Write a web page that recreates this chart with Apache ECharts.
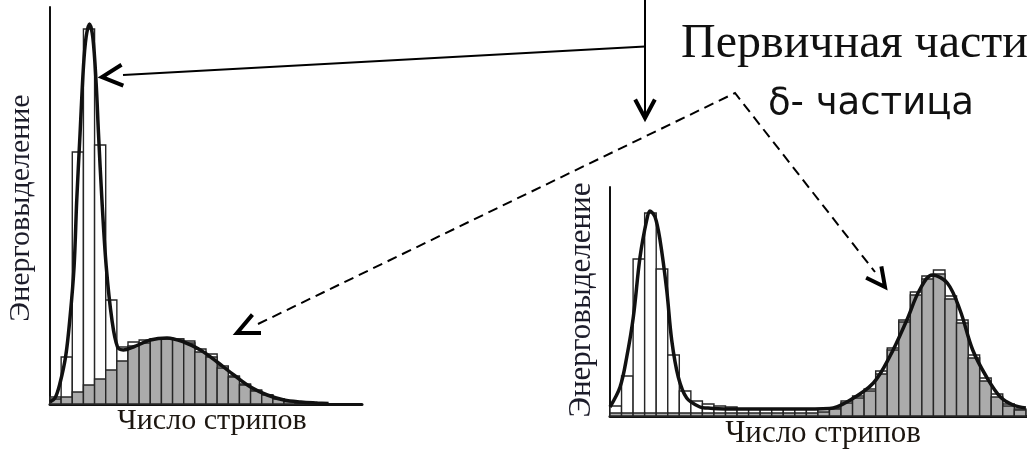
<!DOCTYPE html>
<html><head><meta charset="utf-8">
<script src="https://cdn.jsdelivr.net/npm/echarts@6/dist/echarts.min.js"></script>
<style>html,body{margin:0;padding:0;background:#fff}#c{width:1027px;height:453px}</style>
</head><body><div id="c"></div>
<script>
// ---- Left panel: delta-particle overlapping the primary cluster ----
const leftTotal = [7, 47, 252, 375, 259, 104, 57, 62, 64, 65, 66, 65, 63, 55, 50, 38, 28, 20, 14, 9, 5, 3, 2, 1];
const leftDelta = [5, 7, 12, 19, 25, 34, 43, 58, 61, 65, 65, 65, 61, 52, 47, 36, 27, 19, 13, 9, 5, 2.5, 1.5, 1];
const leftFit = [[0,2],[0.45,6],[0.9,21],[1.41,48],[1.8,87],[2.16,137],[2.4,204],[2.7,271],[3.0,337],[3.24,367],[3.54,380],[3.84,367],[4.14,321],[4.35,271],[4.66,204],[5.05,137],[5.56,84],[6.06,57],[6.58,54],[7.48,57],[9.0,64],[10.5,66],[12.0,62],[13.5,54],[15.0,42],[16.5,29],[18.0,17],[19.5,9],[21.0,4],[22.5,2],[24.0,1],[25,0.5]];

// ---- Right panel: delta-particle separated from the primary cluster ----
const rightTotal = [10, 40, 157, 203, 147, 61, 25, 15, 12, 10, 9, 7, 7, 7, 7, 7, 7, 7, 7, 8, 15, 20, 27, 45, 68, 96, 124, 140, 146, 120, 96, 61, 38, 22, 12, 7];
const rightDelta = [3, 3, 3, 3, 3, 3, 3, 3, 3, 3, 3, 3, 3, 3, 3, 3, 3, 3, 4, 7, 13, 18, 25, 42, 66, 94, 121, 137, 142, 117, 93, 58, 35, 19, 10, 6];
const rightFit = [[0,9],[0.87,29],[1.45,59],[2.02,99],[2.6,159],[3.18,196],[3.46,205],[3.9,199],[4.33,176],[4.91,126],[5.34,76],[5.91,39],[6.64,18],[7.79,9],[8.37,8],[10,7],[13,7],[16,7],[19.0,7.5],[20.8,16],[22.8,33],[24.2,59],[25.7,96],[26.8,126],[27.9,141],[29.2,133],[30.3,106],[31.4,66],[32.6,39],[33.8,19],[34.9,11],[36,8]];

// ---- Text ----
const yAxisTitle = 'Энерговыделение';
const xAxisTitle = 'Число стрипов';
const labelPrimary = 'Первичная частица';
const labelDelta = 'δ- частица';

function barRender(fill) {
  return function (params, api) {
    const i = api.value(0), h = api.value(1);
    const p0 = api.coord([i, 0]);
    const p1 = api.coord([i + 1, h]);
    return {
      type: 'rect',
      shape: { x: p0[0], y: p1[1], width: p1[0] - p0[0], height: p0[1] - p1[1] },
      style: { fill: fill, stroke: '#262626', lineWidth: 1.4 }
    };
  };
}
function bars(arr, idx, fill, z) {
  return { type: 'custom', xAxisIndex: idx, yAxisIndex: idx, z: z, renderItem: barRender(fill),
    encode: { x: 0, y: 1 }, data: arr.map((v, i) => [i, v]), silent: true };
}
function fit(arr, idx) {
  return { type: 'line', xAxisIndex: idx, yAxisIndex: idx, z: 5, data: arr, smooth: 0.35,
    showSymbol: false, symbol: 'none', lineStyle: { color: '#111', width: 3.5 }, silent: true };
}
function axisX(idx, max) {
  return { type: 'value', gridIndex: idx, min: 0, max: max, axisLine: { show: true, onZero: false, lineStyle: { color: '#111', width: 3 } },
    axisTick: { show: false }, axisLabel: { show: false }, splitLine: { show: false } };
}
function axisY(idx, max) {
  return { type: 'value', gridIndex: idx, min: 0, max: max, axisLine: { show: true, onZero: false, lineStyle: { color: '#111', width: 2 } },
    axisTick: { show: false }, axisLabel: { show: false }, splitLine: { show: false } };
}
function chevron(tip, angDeg, len, halfDeg) {
  const a1 = (angDeg - halfDeg) * Math.PI / 180, a2 = (angDeg + halfDeg) * Math.PI / 180;
  return { type: 'polyline', z: 20, shape: { points: [
      [tip[0] + len * Math.cos(a1), tip[1] + len * Math.sin(a1)], tip,
      [tip[0] + len * Math.cos(a2), tip[1] + len * Math.sin(a2)]] },
    style: { stroke: '#000', lineWidth: 4, fill: null, lineJoin: 'miter' } };
}
function txt(s, x, y, font, color, rot, align) {
  return { type: 'text', x: x, y: y, rotation: rot || 0, z: 20,
    style: { text: s, x: 0, y: 0, align: align || 'center', verticalAlign: 'middle', font: font, fill: color } };
}

const chart = echarts.init(document.getElementById('c'), null, { renderer: 'canvas' });
chart.setOption({
  animation: false,
  backgroundColor: '#fff',
  grid: [
    { left: 50, top: 7, width: 312, height: 397 },
    { left: 610, top: 187, width: 417, height: 229 }
  ],
  xAxis: [axisX(0, 28), axisX(1, 36.1)],
  yAxis: [axisY(0, 397), axisY(1, 229)],
  series: [
    bars(leftTotal, 0, '#ffffff', 1), bars(leftDelta, 0, '#ababab', 2), fit(leftFit, 0),
    bars(rightTotal, 1, '#ffffff', 1), bars(rightDelta, 1, '#ababab', 2), fit(rightFit, 1)
  ],
  graphic: [
    { type: 'polyline', z: 20, shape: { points: [[123, 75], [645, 46.5]] }, style: { stroke: '#000', lineWidth: 2, fill: null } },
    { type: 'polyline', z: 20, shape: { points: [[645, 0], [645, 116]] }, style: { stroke: '#000', lineWidth: 2, fill: null } },
    chevron([102, 77], -5, 23, 27),
    chevron([645, 118], -90, 21, 28),
    { type: 'polyline', z: 20, shape: { points: [[258, 324], [735, 93], [875, 272]] }, style: { stroke: '#000', lineWidth: 2, fill: null, lineDash: [10, 6] } },
    chevron([237, 333], -25, 24, 25),
    chevron([885, 287], -127, 21, 27),
    txt(labelPrimary, 681, 44, '48px "Liberation Serif"', '#111', 0, 'left'),
    txt(labelDelta, 871, 104, '37px "DejaVu Sans"', '#111', 0),
    txt(yAxisTitle, 21, 208, '30px "Liberation Serif"', '#1c1c2a', Math.PI / 2),
    txt(yAxisTitle, 582, 300, '31px "Liberation Serif"', '#1c1c2a', Math.PI / 2),
    txt(xAxisTitle, 212, 421, '30px "Liberation Serif"', '#1c1610', 0),
    txt(xAxisTitle, 823, 434, '31px "Liberation Serif"', '#1c1610', 0)
  ]
});
</script></body></html>
